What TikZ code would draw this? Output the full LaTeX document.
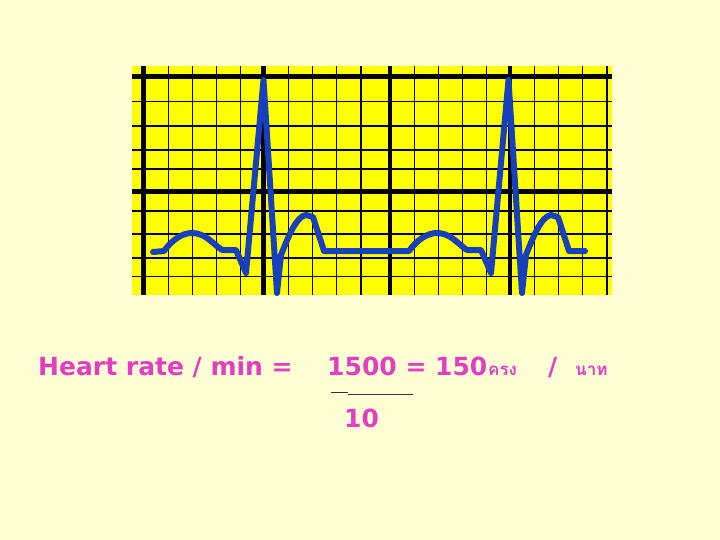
\documentclass[tikz,border=0pt]{standalone}
\usepackage{fontspec}
\setmainfont{DejaVu Sans}
\newfontfamily\thaifont[Script=Thai]{Loma}
\definecolor{bgcream}{RGB}{255,255,214}
\definecolor{gridyellow}{RGB}{255,255,0}
\definecolor{ecgblue}{RGB}{22,64,190}
\definecolor{txtpink}{RGB}{226,62,192}
\tikzset{
  thinline/.style={line width=1.5pt, black},
  thickline/.style={line width=4.5pt, black},
  trace/.style={line width=6pt, ecgblue, line join=round, line cap=round},
  lbl/.style={inner sep=0pt, anchor=base west, text=txtpink, font=\fontsize{25}{28}\selectfont\bfseries},
  thailbl/.style={inner sep=0pt, anchor=base west, text=txtpink, font=\fontsize{17}{20}\selectfont\thaifont\bfseries},
}
\begin{document}
\begin{tikzpicture}[x=1pt,y=-1pt]
\fill[bgcream] (0,0) rectangle (720,540);
\useasboundingbox (0,0) rectangle (720,540);
\fill[gridyellow] (132,66) rectangle (612,294.5);
\foreach \yy in {101.7,126,150,169,211,234,258,276.5}
  \draw[thinline] (132,\yy) -- (612,\yy);
\foreach \xx in {168.3,192.7,216.7,240.7,288.3,312.7,336.7,361,414.3,438.3,462.7,486.7,534.5,558.5,582.7,607}
  \draw[thinline] (\xx,66) -- (\xx,294.5);
\foreach \yy in {76.7,191.7}
  \draw[thickline] (132,\yy) -- (612,\yy);
\foreach \xx in {143.3,263.5,390,510}
  \draw[thickline] (\xx,66) -- (\xx,294.5);
\draw[trace] (153,252) -- (164,251)
  .. controls (172,240) and (182,233) .. (192,233)
  .. controls (205,233) and (212,243) .. (222,250) -- (236,250) -- (246,273) -- (263.5,80) -- (277,293) -- (281,255)
  .. controls (287,240) and (296,216) .. (306,215) -- (313,217) -- (324,251) -- (409,251)
  .. controls (417,240) and (427,233) .. (437,233)
  .. controls (450,233) and (457,243) .. (467,250) -- (481,250) -- (491,273) -- (508.5,80) -- (522,293) -- (526,255)
  .. controls (532,240) and (541,216) .. (551,215) -- (558,217) -- (569,251) -- (585,251);
\node[lbl] (hr) at (38,375) {Heart rate / min =};
\node[lbl] (num) at (327,375) {1500 = 150};
\node[thailbl] (krang) at (488,375) {ครง};
\node[lbl] (slash) at (548,375) {/};
\node[thailbl] (nathi) at (575,375) {นาท};
\coordinate (f1) at (330.5,392.5);
\coordinate (f2) at (348,392.5);
\coordinate (f3) at (348,394);
\coordinate (f4) at (413,394);
\draw[line width=1pt, black!80] (f1) -- (f2);
\draw[line width=1pt, black!80] (f3) -- (f4);
\node[lbl] (den) at (344,427) {10};
\end{tikzpicture}
\end{document}
